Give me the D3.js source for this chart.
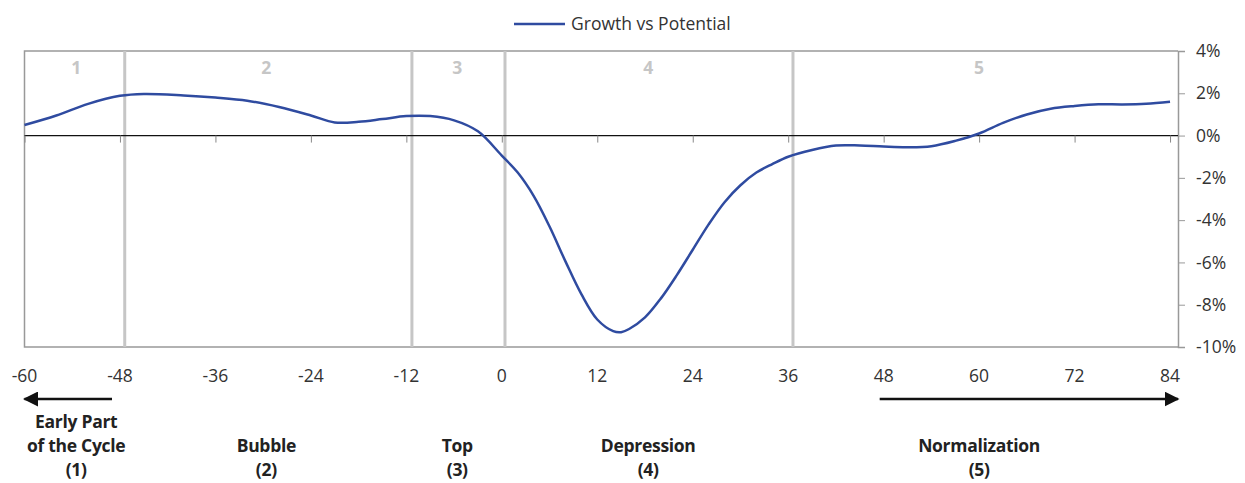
<!DOCTYPE html>
<html>
<head>
<meta charset="utf-8">
<script src="https://cdn.jsdelivr.net/npm/d3@7"></script>
<style>
  body { margin: 0; background: #fff; }
  svg text { font-family: "Open Sans", Lato, sans-serif; }
</style>
</head>
<body>
<div id="viz"></div>
<script>
// datos
const months = [-60,-56,-52,-48,-45,-40,-36,-32,-28,-24,-21,-18,-15,-12,-9,-6,-3,0,2,4,6,8,10,12,14,15,16,18,20,22,24,26,28,30,32,34,36,39,42,45,48,51,54,57,60,63,66,69,72,75,78,81,84];
const growth = [0.5,0.95,1.5,1.88,1.97,1.9,1.8,1.65,1.35,0.95,0.62,0.65,0.78,0.92,0.92,0.72,0.2,-0.95,-1.75,-2.85,-4.3,-5.95,-7.5,-8.7,-9.25,-9.3,-9.15,-8.6,-7.7,-6.6,-5.4,-4.2,-3.15,-2.35,-1.75,-1.35,-1.0,-0.68,-0.47,-0.47,-0.52,-0.55,-0.5,-0.25,0.1,0.6,1.0,1.27,1.4,1.48,1.47,1.5,1.6];
const xTicks = [-60,-48,-36,-24,-12,0,12,24,36,48,60,72,84];
const yTicks = [4,2,0,-2,-4,-6,-8,-10];
const phaseLines = [-47.4,-11.3,0.4,36.6];
const phaseNums = ['1','2','3','4','5'];
const phaseNumX = [-53.5,-29.6,-5.6,18.4,60];
const phaseNames = [['Early Part','of the Cycle','(1)'],['Bubble','(2)'],['Top','(3)'],['Depression','(4)'],['Normalization','(5)']];
const seriesName = 'Growth vs Potential';

const W = 1245, H = 483;
const COLOR_LINE = '#2f4ba0', COLOR_GREY = '#c6c6c6', COLOR_TEXT = '#333';
const FS = 17.5;

let svg = d3.select('#viz').append('svg').attr('width', W).attr('height', H);

let x = d3.scaleLinear().domain([-60, 85]).range([24.5, 1178]);
let y = d3.scaleLinear().domain([-10, 4]).range([347, 51]);

// marco
svg.append('path')
  .attr('d', `M${x(85)},${y(4)}H${x(-60)}V${y(-10)}H${x(85)}`)
  .attr('fill', 'none').attr('stroke', '#999').attr('stroke-width', 1.5);

// lineas de fase
svg.selectAll('.phase').data(phaseLines).enter().append('line')
  .attr('x1', d => x(d)).attr('x2', d => x(d))
  .attr('y1', y(4)).attr('y2', y(-10))
  .attr('stroke', COLOR_GREY).attr('stroke-width', 3);

svg.selectAll('.pnum').data(phaseNums).enter().append('text')
  .attr('x', (d, i) => x(phaseNumX[i])).attr('y', 74)
  .attr('text-anchor', 'middle').attr('font-size', FS).attr('font-weight', 700)
  .attr('fill', COLOR_GREY).text(d => d);

// eje derecho
let yAxis = svg.append('g')
  .attr('transform', `translate(${x(85)},0)`)
  .call(d3.axisRight(y).tickValues(yTicks).tickSize(7).tickPadding(11).tickFormat(d => d + '%'));
yAxis.select('.domain').attr('stroke', '#999').attr('stroke-width', 1.5);
yAxis.selectAll('.tick line').attr('stroke', '#999');
yAxis.selectAll('text').attr('font-size', FS).attr('fill', COLOR_TEXT).attr('font-family', '"Open Sans", sans-serif');

// linea cero con ticks
let xAxis = svg.append('g')
  .attr('transform', `translate(0,${y(0)})`)
  .call(d3.axisBottom(x).tickValues(xTicks).tickSize(7).tickFormat(''));
xAxis.select('.domain').attr('d', `M${x(-60)},0H${x(85)}`).attr('stroke', '#111').attr('stroke-width', 1.2);
xAxis.selectAll('.tick line').attr('stroke', '#888');

svg.selectAll('.xlab').data(xTicks).enter().append('text')
  .attr('x', d => x(d)).attr('y', 382)
  .attr('text-anchor', 'middle').attr('font-size', FS).attr('fill', COLOR_TEXT)
  .text(d => d);

// serie
let data = months.map((m, i) => ({m: m, v: growth[i]}));
svg.append('path').datum(data)
  .attr('fill', 'none').attr('stroke', COLOR_LINE).attr('stroke-width', 2.5)
  .attr('d', d3.line().x(d => x(d.m)).y(d => y(d.v)).curve(d3.curveCatmullRom));

// leyenda
svg.append('line').attr('x1', 514).attr('x2', 565).attr('y1', 24).attr('y2', 24)
  .attr('stroke', COLOR_LINE).attr('stroke-width', 2.5);
svg.append('text').attr('x', 571).attr('y', 30).attr('font-size', FS).attr('fill', COLOR_TEXT).text(seriesName);

// flechas
let defs = svg.append('defs');
defs.append('marker').attr('id', 'arr').attr('viewBox', '0 0 10 10').attr('refX', 9).attr('refY', 5)
  .attr('markerWidth', 6).attr('markerHeight', 6).attr('markerUnits', 'strokeWidth').attr('orient', 'auto-start-reverse')
  .append('path').attr('d', 'M0,0L10,5L0,10Z').attr('fill', '#111');
svg.append('line').attr('x1', x(-49)).attr('x2', x(-60)).attr('y1', 399).attr('y2', 399)
  .attr('stroke', '#111').attr('stroke-width', 2.5).attr('marker-end', 'url(#arr)');
svg.append('line').attr('x1', x(47.5)).attr('x2', x(85)).attr('y1', 399).attr('y2', 399)
  .attr('stroke', '#111').attr('stroke-width', 2.5).attr('marker-end', 'url(#arr)');

// nombres de fase
let names = svg.selectAll('.pname').data(phaseNames).enter().append('text')
  .attr('text-anchor', 'middle').attr('font-size', FS).attr('font-weight', 700).attr('fill', '#222')
  .attr('letter-spacing', -0.3)
  .attr('transform', (d, i) => `translate(${x(phaseNumX[i])},${428 + (3 - d.length) * 24})`);
names.selectAll('tspan').data(d => d).enter().append('tspan')
  .attr('x', 0).attr('dy', (d, i) => i === 0 ? 0 : 24).text(d => d);
</script>
</body>
</html>
